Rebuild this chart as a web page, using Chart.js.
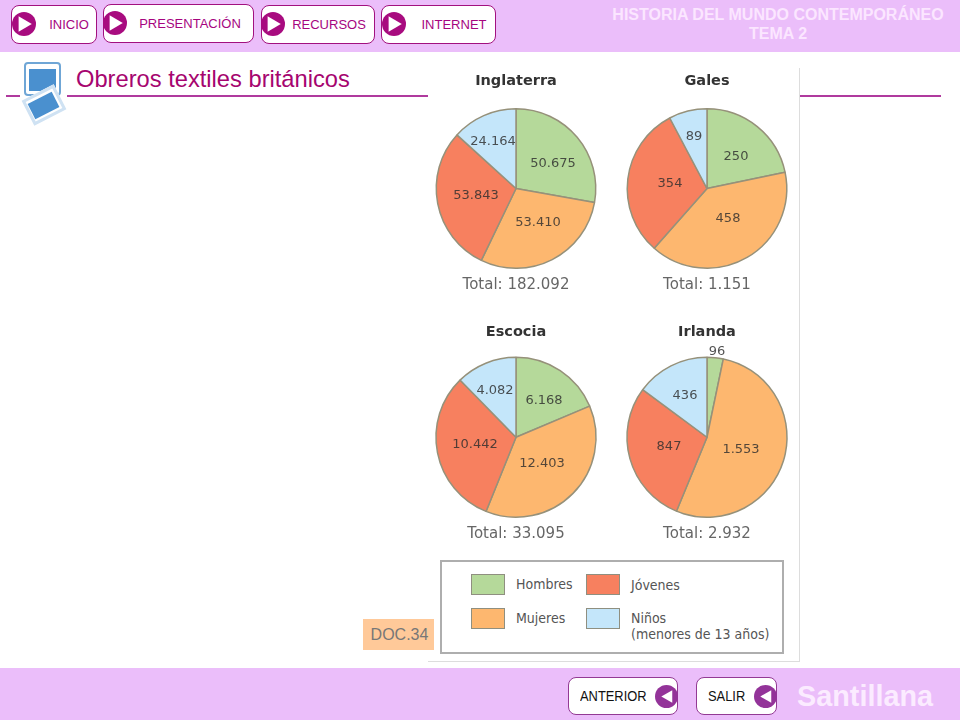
<!DOCTYPE html>
<html lang="es">
<head>
<meta charset="utf-8">
<title>Obreros textiles británicos</title>
<script src="https://cdn.jsdelivr.net/npm/chart.js@4"></script>
<style>
html, body { margin: 0; padding: 0; background: #fff; }
#page { position: relative; width: 960px; height: 720px; overflow: hidden; font-family: "Liberation Sans", Arial, sans-serif; }
#page div, #page canvas, #page svg { position: absolute; }
.band { left: 0; width: 960px; background: #ebbefa; }
.rule { top: 95px; height: 2px; background: #b03a9e; }
.btn { background: #fff; border: 1px solid #a2107f; border-radius: 8px; box-sizing: border-box; }
.btn-label { color: #a6057f; font-size: 13px; transform: translateX(-50%); white-space: nowrap; }
.foot { background: #fff; border: 1px solid #933a94; border-radius: 8px; box-sizing: border-box; }
.foot-label { color: #111; font-size: 14px; white-space: nowrap; transform: scaleX(.92); transform-origin: left; }
.head { left: 598px; width: 360px; text-align: center; color: #fbe6ff; font-weight: bold; font-size: 16px; }
.swatch { width: 34px; height: 21px; box-sizing: border-box; border: 1px solid #8f8f80; }
.leg { font-family: "DejaVu Sans Condensed", "DejaVu Sans", sans-serif; font-size: 14px; color: #555; white-space: nowrap; }
</style>
</head>
<body>
<div id="page">
  <div class="band" style="top:0;height:52px"></div>
  <div class="band" style="top:668px;height:52px"></div>

  <div class="rule" style="left:6px;width:14px"></div>
  <div class="rule" style="left:67px;width:362px"></div>
  <div class="rule" style="left:799px;width:142px"></div>

  <div style="left:24px;top:62px;width:37px;height:34px;box-sizing:border-box;background:#fff;border:2px solid #6fa6d6;border-radius:4px"></div>
  <div style="left:29px;top:69px;width:27px;height:22px;background:#4a90cf"></div>
  <div style="left:25.5px;top:91px;width:36px;height:28px;box-sizing:border-box;background:#fff;border:3px solid #cfe2f3;transform:rotate(-27deg)"></div>
  <div style="left:29.5px;top:97px;width:27px;height:17px;background:#4a90cf;transform:rotate(-27deg)"></div>
  <div style="left:76px;top:66px;font-size:23.7px;color:#a6056f;white-space:nowrap">Obreros textiles británicos</div>

  <div id="panel" style="left:428px;top:68px;width:372px;height:594px;background:#fff;border-right:1px solid #ddd;border-bottom:1px solid #ddd;box-sizing:border-box"></div>

  <div class="head" style="top:6px">HISTORIA DEL MUNDO CONTEMPORÁNEO</div>
  <div class="head" style="top:25px">TEMA 2</div>

  <div style="left:363px;top:619px;width:71px;height:31px;background:#ffc999;color:#777;font-size:16px;line-height:31px;text-align:center;padding-left:2px;box-sizing:border-box">DOC.34</div>

  <div style="left:440px;top:560px;width:344px;height:94px;box-sizing:border-box;border:2px solid #aeaeae;background:#fff"></div>

  <div style="left:797px;top:680px;font-size:28.8px;font-weight:bold;color:#fbebff;white-space:nowrap">Santillana</div>
</div>

<script>
// Datos de cada país: Hombres, Mujeres, Jóvenes, Niños
const categorias = ['Hombres', 'Mujeres', 'Jóvenes', 'Niños'];
const inglaterra = [50675, 53410, 53843, 24164];
const gales = [250, 458, 354, 89];
const escocia = [6168, 12403, 10442, 4082];
const irlanda = [96, 1553, 847, 436];
const totales = [182092, 1151, 33095, 2932];
const paises = ['Inglaterra', 'Gales', 'Escocia', 'Irlanda'];

const colores = ['#b5d99a', '#fdb76f', '#f7805f', '#c4e6fa'];

// Donde va cada número respecto al centro de su tarta
const posEtiquetas = [
    [[37, -25], [22, 34], [-40, 7], [-23, -47]],
    [[29, -32], [21, 30], [-37, -5], [-13, -52]],
    [[28, -37], [26, 26], [-41, 7], [-21, -47]],
    [[10, -86], [34, 12], [-38, 9], [-22, -42]]
];

const page = document.getElementById('page');

function crear(tag, estilo, texto, clase) {
    let el = document.createElement(tag);
    el.style.cssText = estilo;
    if (texto) el.textContent = texto;
    if (clase) el.className = clase;
    page.appendChild(el);
    return el;
}

// Número español con punto de miles
function fmt(n) {
    return n.toLocaleString('de-DE');
}

const etiquetasPlugin = {
    id: 'etiquetas',
    afterDraw(chart, args, opts) {
        let ctx = chart.ctx;
        let arcos = chart.getDatasetMeta(0).data;
        ctx.save();
        ctx.font = '13px "DejaVu Sans"';
        ctx.textAlign = 'center';
        ctx.textBaseline = 'middle';
        ctx.fillStyle = 'rgba(45,45,45,0.82)';
        arcos.forEach((arco, i) => {
            let p = opts.pos[i];
            ctx.fillText(fmt(chart.data.datasets[0].data[i]), arco.x + p[0], arco.y + p[1]);
        });
        ctx.restore();
    }
};

function tarta(i, valores, x, y, altoTitulo, altoTotal) {
    let canvas = crear('canvas', `left:${x}px;top:${y}px`);
    canvas.width = 190;
    canvas.height = altoTitulo + 161.5 + altoTotal;
    new Chart(canvas, {
        type: 'pie',
        data: {
            labels: categorias,
            datasets: [{
                data: valores,
                backgroundColor: colores,
                borderColor: '#96917a',
                borderWidth: 1.5
            }]
        },
        plugins: [etiquetasPlugin],
        options: {
            responsive: false,
            animation: false,
            layout: { padding: 0 },
            plugins: {
                legend: { display: false },
                tooltip: { enabled: false },
                title: {
                    display: true,
                    text: paises[i],
                    color: '#333',
                    font: { family: '"DejaVu Sans"', size: 14.5, weight: 'bold' },
                    padding: { top: 5, bottom: altoTitulo - 22.4 }
                },
                subtitle: {
                    display: true,
                    position: 'bottom',
                    text: 'Total: ' + fmt(totales[i]),
                    color: '#666',
                    font: { family: '"DejaVu Sans"', size: 15, weight: 'normal' },
                    padding: { top: 7, bottom: 3 }
                },
                etiquetas: { pos: posEtiquetas[i] }
            }
        }
    });
}

tarta(0, inglaterra, 421, 68, 40, 28);
tarta(1, gales, 611.5, 68, 40, 28);
tarta(2, escocia, 421, 319, 37.5, 28);
tarta(3, irlanda, 611.5, 319, 37.5, 28);

// Leyenda
const leyendaPos = [[471, 574, 516, 576], [471, 608, 516, 610], [586, 574, 631, 577], [586, 608, 631, 610]];
categorias.forEach((c, i) => {
    let p = leyendaPos[i];
    crear('div', `left:${p[0]}px;top:${p[1]}px;background:${colores[i]}`, '', 'swatch');
    crear('div', `left:${p[2]}px;top:${p[3]}px`, c, 'leg');
});
crear('div', 'left:631px;top:626px', '(menores de 13 años)', 'leg');

// Botones de arriba
function flecha(cx, cy, r, color, izquierda) {
    let svg = document.createElementNS('http://www.w3.org/2000/svg', 'svg');
    svg.setAttribute('width', r * 2);
    svg.setAttribute('height', r * 2);
    svg.style.cssText = `left:${cx - r}px;top:${cy - r}px`;
    let pts = izquierda ? `${r * 0.55},${r} ${r * 1.5},${r * 0.45} ${r * 1.5},${r * 1.55}` : `${r * 0.55},${r * 0.35} ${r * 1.65},${r} ${r * 0.55},${r * 1.65}`;
    svg.innerHTML = `<circle cx="${r}" cy="${r}" r="${r}" fill="${color}"/><polygon points="${pts}" fill="#fff"/>`;
    page.appendChild(svg);
}

const botones = ['INICIO', 'PRESENTACIÓN', 'RECURSOS', 'INTERNET'];
const botonesCaja = [[11, 5, 86, 39, 23.5, 69], [103, 4, 151, 39, 114.5, 190], [261, 5, 114, 39, 272.5, 329], [381, 5, 115, 39, 393.5, 454]];
botones.forEach((b, i) => {
    let c = botonesCaja[i];
    crear('div', `left:${c[0]}px;top:${c[1]}px;width:${c[2]}px;height:${c[3]}px`, '', 'btn');
    flecha(c[4], c[1] + 19, 12, '#a80b7f', false);
    crear('div', `left:${c[5]}px;top:${c[1] + 12}px`, b, 'btn-label');
});

// Botones de abajo
crear('div', 'left:568px;top:677px;width:110px;height:38px', '', 'foot');
crear('div', 'left:580px;top:688px', 'ANTERIOR', 'foot-label');
flecha(666, 696, 11.5, '#933399', true);
crear('div', 'left:696px;top:677px;width:81px;height:38px', '', 'foot');
crear('div', 'left:708px;top:688px', 'SALIR', 'foot-label');
flecha(765, 696, 11.5, '#933399', true);
</script>
</body>
</html>
